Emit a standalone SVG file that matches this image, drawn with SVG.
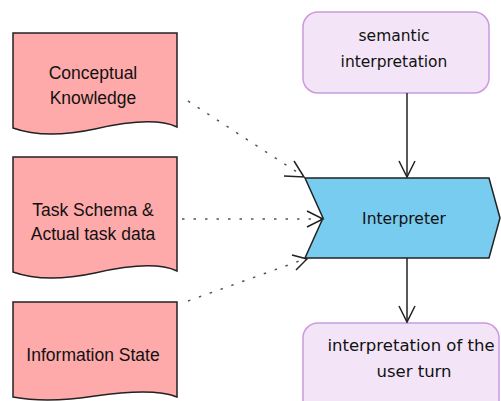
<svg xmlns="http://www.w3.org/2000/svg" width="501" height="401" viewBox="0 0 501 401">
<defs>
<style>
.doc{fill:#ffaaaa;stroke:#222;stroke-width:1.5}
.rnd{fill:#f3e5f7;stroke:#cc99dd;stroke-width:1.5}
.proc{fill:#77ccf0;stroke:#222;stroke-width:1.5}
.t{font-family:"Liberation Sans",Arial,sans-serif;font-size:17.5px;fill:#111;text-anchor:middle}
.t2{font-family:"DejaVu Sans","Liberation Sans",sans-serif;font-size:15.5px;fill:#111;text-anchor:middle}
.t3{font-size:16.5px}
.flow{fill:none;stroke:#222;stroke-width:1.5}
.dot{fill:none;stroke:#555;stroke-width:1.5;stroke-dasharray:2.5 9}
.head{fill:none;stroke:#222;stroke-width:1.5}
</style>
</defs>
<g id="node-conceptual">
<path class="doc" d="M13,33 H177 V127 C160,119 130,121 95,129 C62,136 35,136 13,128 Z"/>
<text class="t" x="93" y="79">Conceptual</text>
<text class="t" x="93" y="104">Knowledge</text>
</g>
<g id="node-task">
<path class="doc" d="M13,157 H177 V271 C160,263 130,265 95,273 C62,280 35,280 13,272 Z"/>
<text class="t" x="93" y="216">Task Schema &amp;</text>
<text class="t" x="93" y="240">Actual task data</text>
</g>
<g id="node-info">
<path class="doc" d="M13,302 H177 V397 C160,390 130,391 95,396 C62,401 35,401 13,397 Z"/>
<text class="t" x="93" y="361">Information State</text>
</g>
<g id="node-semantic">
<rect class="rnd" x="303" y="12" width="186" height="81" rx="15"/>
<text class="t2" x="394" y="41">semantic</text>
<text class="t2" x="394" y="67">interpretation</text>
</g>
<g id="node-interpreter">
<path class="proc" d="M305,178 H489 L500,218 L489,258 H305 L323,218 Z"/>
<text class="t2" x="404" y="224">Interpreter</text>
</g>
<g id="node-output">
<rect class="rnd" x="303" y="323" width="196" height="100" rx="15"/>
<text class="t2 t3" x="411" y="351">interpretation of the</text>
<text class="t2 t3" x="414" y="377">user turn</text>
</g>
<g id="connectors">
<line class="flow" x1="407" y1="93" x2="407" y2="177"/>
<path class="head" d="M399,161 L407,177 L415,161"/>
<line class="flow" x1="407" y1="258" x2="407" y2="322"/>
<path class="head" d="M399,306 L407,322 L415,306"/>
<line class="dot" x1="188" y1="101" x2="303" y2="176"/>
<path class="head" d="M294,161 L304,177 L284,176"/>
<line class="dot" x1="182" y1="219" x2="321" y2="219"/>
<path class="head" d="M307,211 L323,219 L307,227"/>
<line class="dot" x1="188" y1="301" x2="305" y2="259"/>
<path class="head" d="M292,255 L307,259 L296,270"/>
</g>
</svg>
